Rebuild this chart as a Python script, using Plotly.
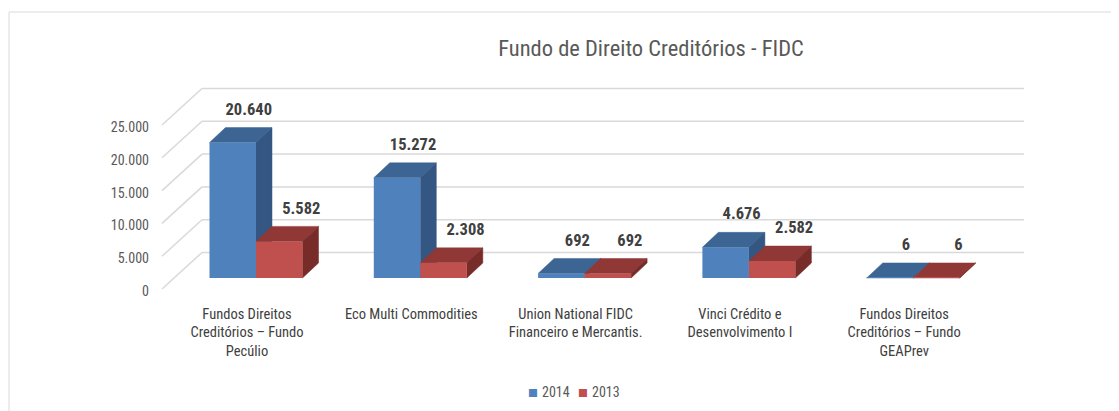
import plotly.graph_objects as go

# ---------------- data ----------------
categories = [
    "Fundos Direitos<br>Creditórios – Fundo<br>Pecúlio",
    "Eco Multi Commodities",
    "Union National FIDC<br>Financeiro e Mercantis.",
    "Vinci Crédito e<br>Desenvolvimento I",
    "Fundos Direitos<br>Creditórios – Fundo<br>GEAPrev",
]
series_names = ["2014", "2013"]
values_2014 = [20640, 15272, 692, 4676, 6]
values_2013 = [5582, 2308, 692, 2582, 6]
y_ticks = [0, 5000, 10000, 15000, 20000, 25000]
title_text = "Fundo de Direito Creditórios - FIDC"

# ---------------- styling / geometry (page pixels) ----------------
PAGE_W, PAGE_H = 1119, 411
BODY = 8                        # default html body margin
W, H = PAGE_W - BODY, PAGE_H - BODY
PX_PER_CAT = 164.3              # pixels per category step
PX_PER_UNIT = 0.00656           # pixels per value unit
X0_PX = 256.0                   # page x of first category's bar pair centre
Y0_PX = 278.0                   # page y of zero on the bar plane

def ux(px):
    return px / PX_PER_CAT

def uy(px):
    return px / PX_PER_UNIT

def xdata(page_x):
    return (page_x - X0_PX) / PX_PER_CAT

def xpaper(page_x):
    return (page_x - BODY) / W

def ypaper(page_y):
    return 1 - (page_y - BODY) / H

BAR_W = ux(46.5)
DDX, DDY = ux(16), uy(15)              # bar depth
BACK_DY, FRONT_DY = uy(25.5), uy(-11)  # wall offsets from bar plane
WALL_L, WALL_R, FRONT_L = xdata(202), xdata(1024), xdata(162)
TICK_DX = ux(-9)
LABEL_DX = {"2014": ux(16), "2013": ux(22)}
LABEL_DY = uy(17)
LEGEND_SQ_X = {"2014": 533, "2013": 583}   # page x of legend key squares
LEGEND_Y = 392

colors = {
    "2014": dict(front="#4F81BD", top="#3D6594", side="#335682"),
    "2013": dict(front="#C0504D", top="#8F3836", side="#772C2A"),
}
GRID = "#D9D9D9"
TEXT = "#595959"
LABEL = "#404040"
FONT = "Roboto Condensed, Open Sans, sans-serif"

fig = go.Figure()
shapes = []

# back-wall gridlines and left diagonals
for t in y_ticks:
    shapes.append(dict(type="line", xref="x", yref="y", layer="below",
                       x0=WALL_L, y0=t + BACK_DY, x1=WALL_R, y1=t + BACK_DY,
                       line=dict(color=GRID, width=1.5)))
    shapes.append(dict(type="line", xref="x", yref="y", layer="below",
                       x0=FRONT_L, y0=t + FRONT_DY, x1=WALL_L, y1=t + BACK_DY,
                       line=dict(color=GRID, width=1.5)))

def poly(pts, color):
    p = "M " + " L ".join(f"{x:.5f},{y:.3f}" for x, y in pts) + " Z"
    return dict(type="path", xref="x", yref="y", layer="below", path=p,
                fillcolor=color, line=dict(color=color, width=0.5))

series = [("2014", values_2014, -0.5), ("2013", values_2013, 0.5)]
for g in range(len(categories)):
    for name, vals, off in series:
        v = vals[g]
        xc = g + off * BAR_W
        x0, x1 = xc - BAR_W / 2, xc + BAR_W / 2
        c = colors[name]
        shapes.append(poly([(x0, v), (x1, v), (x1 + DDX, v + DDY), (x0 + DDX, v + DDY)], c["top"]))
        shapes.append(poly([(x1, 0), (x1, v), (x1 + DDX, v + DDY), (x1 + DDX, DDY)], c["side"]))

xs = list(range(len(categories)))
for name, vals, off in series:
    fig.add_trace(go.Bar(
        name=name, x=[g + off * BAR_W for g in xs], y=vals, width=BAR_W,
        marker=dict(color=colors[name]["front"], line=dict(width=0)),
        hoverinfo="skip", showlegend=False,
    ))
for name, vals, off in series:
    fig.add_trace(go.Scatter(
        x=[g + off * BAR_W + LABEL_DX[name] for g in xs],
        y=[v + DDY + LABEL_DY for v in vals],
        mode="text",
        text=[f"{v:,}".replace(",", ".") for v in vals],
        textfont=dict(family=FONT, size=16.5, color=LABEL, weight="bold"),
        showlegend=False, hoverinfo="skip",
    ))

# legend keys (compact, Excel-style)
annotations = []
for name in series_names:
    annotations.append(dict(xref="paper", yref="paper", x=xpaper(LEGEND_SQ_X[name]), y=ypaper(LEGEND_Y),
                            xanchor="center", yanchor="middle", showarrow=False, text="■",
                            font=dict(family="DejaVu Sans", size=10.5, color=colors[name]["front"])))
    annotations.append(dict(xref="paper", yref="paper", x=xpaper(LEGEND_SQ_X[name] + 7), y=ypaper(LEGEND_Y),
                            xanchor="left", yanchor="middle", showarrow=False, text=name,
                            font=dict(family=FONT, size=14, color=TEXT)))

# outer frame
shapes.append(dict(type="rect", xref="paper", yref="paper", layer="above",
                   x0=xpaper(9), y0=-0.2, x1=1.2, y1=ypaper(12),
                   line=dict(color="#D9D9D9", width=1), fillcolor="rgba(0,0,0,0)"))

fig.update_layout(
    width=W, height=H,
    margin=dict(l=0, r=0, t=0, b=0),
    paper_bgcolor="white", plot_bgcolor="white",
    separators=",.",
    barmode="overlay",
    shapes=shapes,
    annotations=annotations,
    showlegend=False,
    title=dict(text=title_text, x=xpaper(651), xanchor="center", y=ypaper(48), yanchor="middle",
               font=dict(family=FONT, size=22.5, color=TEXT)),
    xaxis=dict(range=[xdata(BODY), xdata(PAGE_W)],
               tickvals=[g + TICK_DX for g in xs], ticktext=categories,
               anchor="free", position=ypaper(303), showgrid=False, zeroline=False,
               showline=False, ticks="", tickangle=0,
               tickfont=dict(family=FONT, size=14.5, color=LABEL), automargin=False),
    yaxis=dict(range=[(Y0_PX - PAGE_H) / PX_PER_UNIT, (Y0_PX - BODY) / PX_PER_UNIT],
               tickvals=y_ticks, tickformat=",d",
               anchor="free", position=xpaper(149), showgrid=False, zeroline=False,
               showline=False, ticks="", ticklabelshift=13,
               tickfont=dict(family=FONT, size=14, color=TEXT), automargin=False),
)

fig.write_html("out.html")
